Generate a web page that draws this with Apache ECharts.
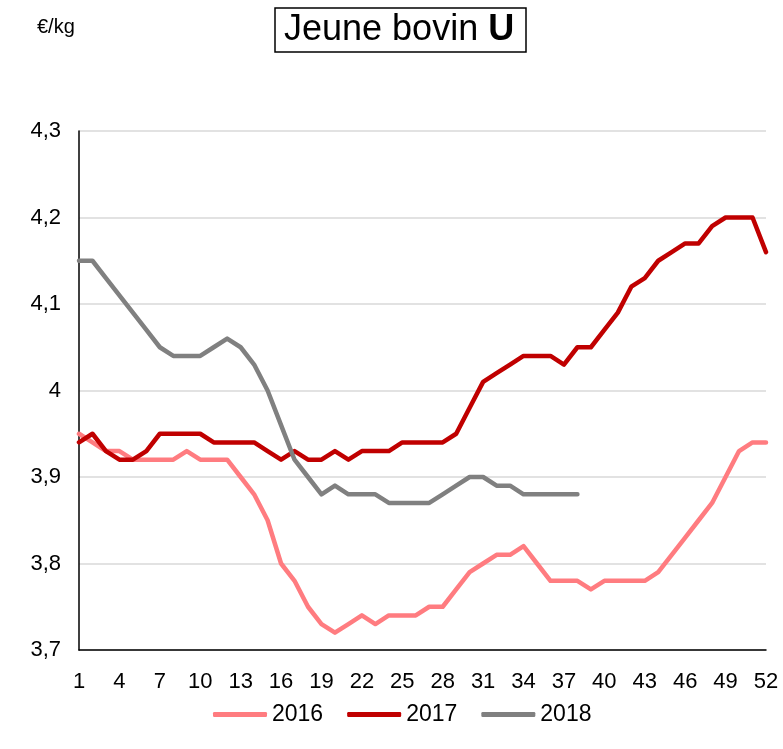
<!DOCTYPE html>
<html lang="fr">
<head>
    <meta charset="UTF-8">
    <title>Jeune bovin U</title>
    <script src="https://cdn.jsdelivr.net/npm/echarts@6/dist/echarts.min.js"></script>
</head>
<body style="margin:0">
<div id="main" style="width: 783px;height:749px;"></div>
<script>
    // semaines 1 a 52
    var weeks = [];
    for (var i = 1; i <= 52; i++) weeks.push(String(i));

    var y2016 = [3.95, 3.94, 3.93, 3.93, 3.92, 3.92, 3.92, 3.92, 3.93, 3.92,
        3.92, 3.92, 3.90, 3.88, 3.85, 3.80, 3.78, 3.75, 3.73, 3.72,
        3.73, 3.74, 3.73, 3.74, 3.74, 3.74, 3.75, 3.75, 3.77, 3.79,
        3.80, 3.81, 3.81, 3.82, 3.80, 3.78, 3.78, 3.78, 3.77, 3.78,
        3.78, 3.78, 3.78, 3.79, 3.81, 3.83, 3.85, 3.87, 3.90, 3.93,
        3.94, 3.94];
    var y2017 = [3.94, 3.95, 3.93, 3.92, 3.92, 3.93, 3.95, 3.95, 3.95, 3.95,
        3.94, 3.94, 3.94, 3.94, 3.93, 3.92, 3.93, 3.92, 3.92, 3.93,
        3.92, 3.93, 3.93, 3.93, 3.94, 3.94, 3.94, 3.94, 3.95, 3.98,
        4.01, 4.02, 4.03, 4.04, 4.04, 4.04, 4.03, 4.05, 4.05, 4.07,
        4.09, 4.12, 4.13, 4.15, 4.16, 4.17, 4.17, 4.19, 4.20, 4.20,
        4.20, 4.16];
    var y2018 = [4.15, 4.15, 4.13, 4.11, 4.09, 4.07, 4.05, 4.04, 4.04, 4.04,
        4.05, 4.06, 4.05, 4.03, 4.00, 3.96, 3.92, 3.90, 3.88, 3.89,
        3.88, 3.88, 3.88, 3.87, 3.87, 3.87, 3.87, 3.88, 3.89, 3.90,
        3.90, 3.89, 3.89, 3.88, 3.88, 3.88, 3.88, 3.88];

    var font = '"Liberation Sans", Arial, sans-serif';

    var myChart = echarts.init(document.getElementById('main'));

    myChart.setOption({
        animation: false,
        title: {
            text: '{a|Jeune bovin }{b|U}',
            left: 275,
            top: 8,
            padding: [4, 12, 4, 9],
            borderColor: '#000',
            borderWidth: 1.5,
            textStyle: {
                fontWeight: 'normal',
                rich: {
                    a: {fontFamily: font, fontSize: 36, fontWeight: 'normal', color: '#000'},
                    b: {fontFamily: font, fontSize: 36, fontWeight: 'bold', color: '#000'}
                }
            }
        },
        graphic: [{
            type: 'text',
            left: 37,
            top: 17,
            style: {text: '€/kg', font: '20px ' + font, fill: '#000'}
        }],
        legend: {
            data: ['2016', '2017', '2018'],
            left: 208,
            top: 698,
            icon: 'roundRect',
            itemWidth: 54,
            itemHeight: 5,
            itemGap: 24,
            textStyle: {fontFamily: font, fontSize: 23, color: '#000'}
        },
        grid: {
            left: 79,
            right: 17,
            top: 131,
            bottom: 99
        },
        xAxis: {
            type: 'category',
            data: weeks,
            boundaryGap: false,
            axisLine: {lineStyle: {color: '#000', width: 1.5}},
            axisTick: {show: false},
            axisLabel: {
                interval: 2,
                margin: 21,
                color: '#000',
                fontFamily: font,
                fontSize: 22
            }
        },
        yAxis: {
            type: 'value',
            min: 3.7,
            max: 4.3,
            interval: 0.1,
            axisLine: {show: true, lineStyle: {color: '#000', width: 1.5}},
            axisTick: {show: false},
            splitLine: {lineStyle: {color: '#d9d9d9', width: 1.5}},
            axisLabel: {
                margin: 18,
                color: '#000',
                fontFamily: font,
                fontSize: 22,
                formatter: function (v) {
                    return String(Math.round(v * 10) / 10).replace('.', ',');
                }
            }
        },
        series: [
            {name: '2016', type: 'line', data: y2016, symbol: 'none', color: '#ff7c80',
                lineStyle: {width: 4.5, cap: 'round', join: 'round'}},
            {name: '2017', type: 'line', data: y2017, symbol: 'none', color: '#c00000',
                lineStyle: {width: 4.5, cap: 'round', join: 'round'}},
            {name: '2018', type: 'line', data: y2018, symbol: 'none', color: '#808080',
                lineStyle: {width: 4.5, cap: 'round', join: 'round'}}
        ]
    });
</script>
</body>
</html>
